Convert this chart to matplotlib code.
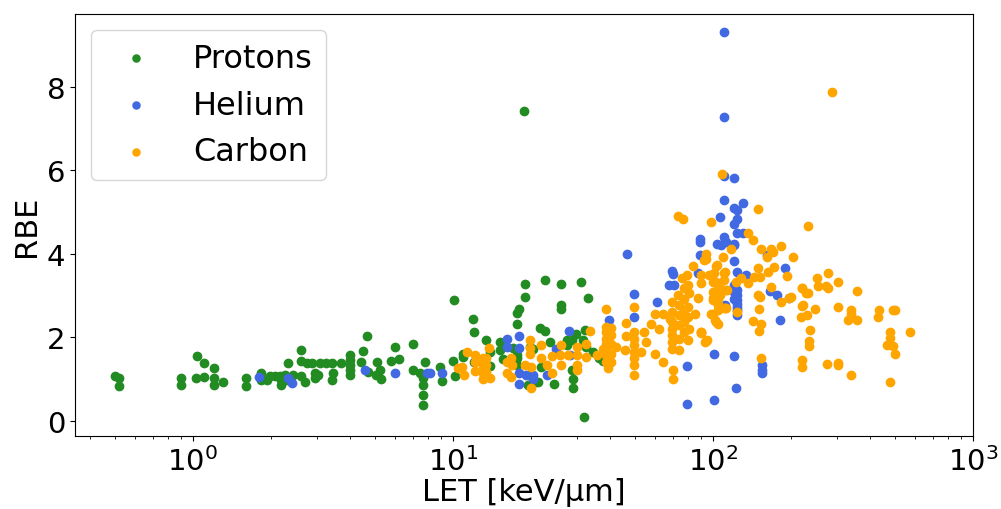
import numpy as np
import matplotlib
matplotlib.use("Agg")
import matplotlib.pyplot as plt

# LET [keV/um] and RBE
p_let = [0.50, 0.52, 0.52, 0.90, 0.90, 1.04, 1.03, 1.10, 1.10, 1.20, 1.20, 1.20, 1.30, 1.60, 1.60,
         1.83, 1.83, 1.92, 1.98, 2.07, 2.16, 2.19, 2.19, 2.26, 2.29, 2.33, 2.43, 2.60, 2.60, 2.60,
         2.70, 2.74, 2.88, 2.94, 2.94, 3.08, 3.03, 3.25, 3.42, 3.45, 3.42, 3.70, 4.01, 4.01, 4.01,
         4.01, 4.01, 4.42, 4.49, 4.72, 4.69, 5.11, 5.24, 5.08, 5.28, 5.79, 5.98, 6.22, 6.99, 6.99,
         7.47, 7.80, 7.70, 7.70, 7.70, 7.70, 8.95, 9.09, 9.98, 10.2, 10.1, 10.96, 10.96, 11.9, 12.0,
         12.0, 13.4, 13.9, 13.9, 15.2, 15.2, 15.6, 17.0, 17.7, 18.0, 17.7, 19.0, 19.0, 17.7, 17.6,
         17.7, 19.7, 20.4, 19.7, 19.5, 20.4, 21.3, 21.6, 22.6, 22.6, 21.9, 23.7, 24.5, 26.0, 26.0,
         26.0, 27.4, 28.6, 29.0, 29.0, 31.0, 33.1, 32.1, 31.6, 32.6, 34.6, 31.8, 29.7, 27.4, 28.6,
         36.5, 37.6, 18.75]
p_rbe = [1.08, 1.02, 0.83, 1.03, 0.87, 1.56, 1.04, 1.39, 1.05, 1.28, 1.04, 0.87, 0.93, 1.04, 0.84,
         1.16, 0.97, 0.98, 1.08, 1.08, 1.08, 0.98, 0.86, 1.10, 0.98, 1.38, 1.10, 1.69, 1.43, 1.08,
         0.94, 1.38, 1.38, 1.02, 1.14, 1.38, 1.10, 1.38, 1.38, 1.16, 0.98, 1.38, 1.57, 1.45, 1.34,
         1.22, 1.10, 1.42, 1.68, 1.18, 2.03, 1.42, 1.22, 1.10, 1.00, 1.43, 1.76, 1.48, 1.85, 1.22,
         1.14, 1.42, 1.02, 0.86, 0.62, 0.38, 1.30, 0.95, 1.43, 1.08, 2.89, 1.61, 1.54, 2.45, 2.12,
         1.42, 1.93, 1.65, 1.32, 1.88, 1.69, 1.48, 1.75, 2.59, 2.67, 2.31, 3.28, 2.97, 1.50, 1.34,
         1.57, 1.77, 1.73, 1.10, 0.86, 0.90, 0.94, 2.23, 2.15, 3.38, 1.30, 1.89, 0.88, 3.27, 2.77,
         2.67, 1.93, 1.93, 1.00, 0.80, 3.33, 2.94, 2.17, 1.93, 1.77, 1.64, 0.09, 2.09, 1.81, 1.22,
         1.50, 1.43, 7.42]

he_let = [1.79, 2.33, 2.40, 4.58, 5.98, 7.92, 8.15, 9.09, 16.2, 16.1, 18.0, 18.0, 18.0, 18.0, 19.1,
          20.4, 20.4, 22.9, 25.0, 27.9, 28.2, 39.9, 46.8, 49.9, 49.9, 60.7, 69.4, 70.0, 68.0, 70.5,
          79.3, 79.3, 87.9, 89.5, 89.5, 89.5, 104, 101, 101, 110, 110, 110, 120, 110, 130,
          121, 124, 120, 124, 106, 110, 107, 112, 121, 124, 130, 120, 121, 124, 134,
          161, 190, 177, 165, 196, 121, 121, 121, 124, 111, 124, 124, 124, 124, 124,
          124, 181, 121, 155, 155, 155, 123]
he_rbe = [1.06, 1.02, 0.92, 1.22, 1.16, 1.15, 1.15, 1.16, 1.96, 1.77, 2.04, 1.75, 1.16, 0.89, 1.10,
          1.10, 1.00, 1.11, 1.72, 2.15, 1.57, 2.41, 4.00, 3.03, 2.49, 2.85, 3.58, 3.52, 3.25, 3.25,
          1.31, 0.40, 3.54, 4.36, 4.28, 3.98, 4.23, 1.60, 0.50, 9.30, 7.28, 5.87, 5.82, 5.28, 5.22,
          5.09, 5.04, 4.72, 4.84, 4.89, 4.40, 4.22, 4.28, 4.24, 4.50, 4.50, 4.20, 3.82, 3.57, 3.50,
          3.98, 3.67, 3.02, 3.10, 2.95, 3.25, 3.09, 2.93, 2.81, 2.77, 3.13, 3.01, 2.89, 2.65, 2.53,
          2.73, 2.41, 1.56, 1.35, 1.22, 1.14, 0.78]

c_let = [10.5, 11.3, 11.0, 10.8, 12.2, 12.2, 12.2, 13.0, 13.0, 13.0, 13.0, 13.4, 13.4, 13.4, 13.7,
         13.9, 13.2, 13.2, 13.2, 16.1, 16.1, 16.7, 16.7, 16.8, 19.0, 19.8, 19.8, 19.8, 19.9, 19.9,
         21.9, 21.9, 23.0, 24.0, 24.0, 26.0, 25.8, 26.0, 27.6, 29.9, 29.9, 29.9, 29.9, 32.4, 32.4,
         33.6, 35.8,
         38.8, 38.8, 38.8, 38.8, 38.8, 38.8, 38.8, 38.8, 39.5, 40.4, 40.4, 40.4, 40.4, 40.4, 37.9,
         42.3, 45.7, 46.4, 46.4, 49.9, 49.9, 49.9, 49.9, 49.9, 49.9, 49.9, 49.9, 52.8, 54.3, 55.3,
         57.6, 60.1, 60.1, 61.8, 64.0, 64.0, 68.5, 69.4, 69.4, 69.4, 69.4, 69.4, 69.4, 69.4, 70.0,
         70.0, 73.1, 74.0, 74.0, 74.0, 74.0, 74.0, 75.8, 77.6, 77.6, 77.6, 77.6, 77.6, 79.4, 80.2,
         80.2, 80.2, 80.2, 81.0, 81.0, 83.8, 85.0, 87.9, 89.9, 93.7, 93.7, 93.7, 96.6, 99.6, 99.6,
         101, 104, 105, 105, 105,
         108, 149, 98.3, 136, 142, 153, 167, 170, 183, 161, 204, 232, 117, 109, 92.7,
         103, 110, 110, 90.1, 106, 104, 106, 113, 123, 128, 136, 144, 149, 152, 163,
         172, 192, 167, 149, 152, 183, 220, 228, 99.6, 90.1, 99.6, 111, 105, 98.3, 102,
         105, 90.0, 95.0, 93.0, 124, 150, 143, 153, 150, 153, 196, 222, 229, 219, 246,
         236, 235, 235, 220, 220, 73.6, 76.6, 288,
         103, 105, 111, 112, 110, 112, 105, 99.6, 103, 89.8,
         251, 276, 254, 273, 276, 302, 359, 220, 231, 200, 220, 302, 339, 339, 331,
         359, 437, 433, 493, 501, 478, 478, 573, 465, 493, 501, 275, 302, 302, 339,
         478]
c_rbe = [1.26, 1.65, 1.10, 1.30, 1.57, 1.42, 1.19, 1.50, 1.32, 1.14, 1.00, 1.51, 1.34, 1.18, 1.75,
         1.03, 1.07, 1.22, 1.42, 1.40, 1.14, 1.51, 1.06, 1.34, 1.35, 1.93, 1.61, 1.75, 1.30, 0.78,
         1.83, 1.50, 1.35, 1.56, 1.14, 1.81, 1.57, 1.34, 1.59, 1.77, 1.57, 1.35, 1.22, 1.85, 1.54,
         2.15, 1.57,
         2.67, 2.25, 2.13, 1.97, 1.85, 1.72, 1.57, 1.42, 1.26, 2.23, 2.05, 1.85, 1.61, 1.42, 1.72,
         1.77, 1.69, 2.35, 2.04, 2.73, 2.13, 1.97, 1.81, 1.65, 1.50, 1.34, 1.10, 1.65, 2.13, 1.89,
         2.31, 2.57, 1.61, 2.21, 2.57, 1.42, 2.45, 2.85, 2.61, 2.37, 2.21, 2.05, 1.89, 1.73, 1.22,
         1.00, 3.01, 2.77, 2.53, 2.29, 1.97, 1.69, 3.41, 3.17, 2.93, 2.65, 2.37, 2.13, 3.49, 3.25,
         2.73, 2.49, 1.93, 3.05, 2.21, 3.70, 2.55, 2.94, 2.12, 1.91, 4.00, 3.87, 3.49, 3.33, 2.94,
         3.54, 3.72, 2.65, 3.09, 2.81,
         5.91, 5.06, 4.77, 4.50, 4.32, 4.12, 4.12, 4.04, 4.19, 3.92, 3.92, 4.66, 4.12, 3.92, 3.84,
         3.71, 3.55, 3.37, 3.29, 3.17, 3.07, 3.01, 3.13, 3.33, 3.41, 3.29, 3.45, 3.65, 3.45, 3.57,
         3.69, 3.47, 3.21, 3.01, 2.97, 2.85, 3.17, 3.05, 2.89, 3.49, 3.09, 2.71, 2.78, 2.55, 2.41,
         2.33, 2.13, 1.93, 1.88, 2.61, 2.69, 2.39, 2.31, 2.16, 1.51, 2.94, 2.77, 2.53, 2.49, 2.67,
         2.17, 1.91, 1.80, 1.47, 1.30, 4.90, 4.84, 7.86,
         3.33, 3.15, 3.57, 3.13, 2.71, 2.71, 2.93, 2.57, 2.37, 2.11,
         3.42, 3.54, 3.23, 3.23, 3.17, 3.33, 3.12, 3.18, 3.06, 2.96, 2.75, 2.72, 2.65, 2.55, 2.41,
         2.41, 2.65, 2.49, 2.65, 2.65, 2.13, 1.99, 2.13, 1.83, 1.79, 1.60, 1.37, 1.39, 1.34, 1.10,
         0.94]

fig, ax = plt.subplots(figsize=(10.01, 5.10), dpi=100)
fig.subplots_adjust(left=0.075, right=0.972, top=0.971, bottom=0.143)
ax.scatter(p_let, p_rbe, color="forestgreen", label="Protons")
ax.scatter(he_let, he_rbe, color="royalblue", label="Helium")
ax.scatter(c_let, c_rbe, color="orange", label="Carbon")
ax.set_xscale("log")
ax.set_xlim(0.352, 1000)
ax.set_ylim(-0.36, 9.74)
ax.set_yticks([0, 2, 4, 6, 8])
ax.tick_params(labelsize=21)
ax.set_xlabel("LET [keV/μm]", fontsize=22, labelpad=1)
ax.set_ylabel("RBE", fontsize=22)
ax.legend(loc="upper left", fontsize=23, markerscale=0.85)
fig.savefig("out.png")
